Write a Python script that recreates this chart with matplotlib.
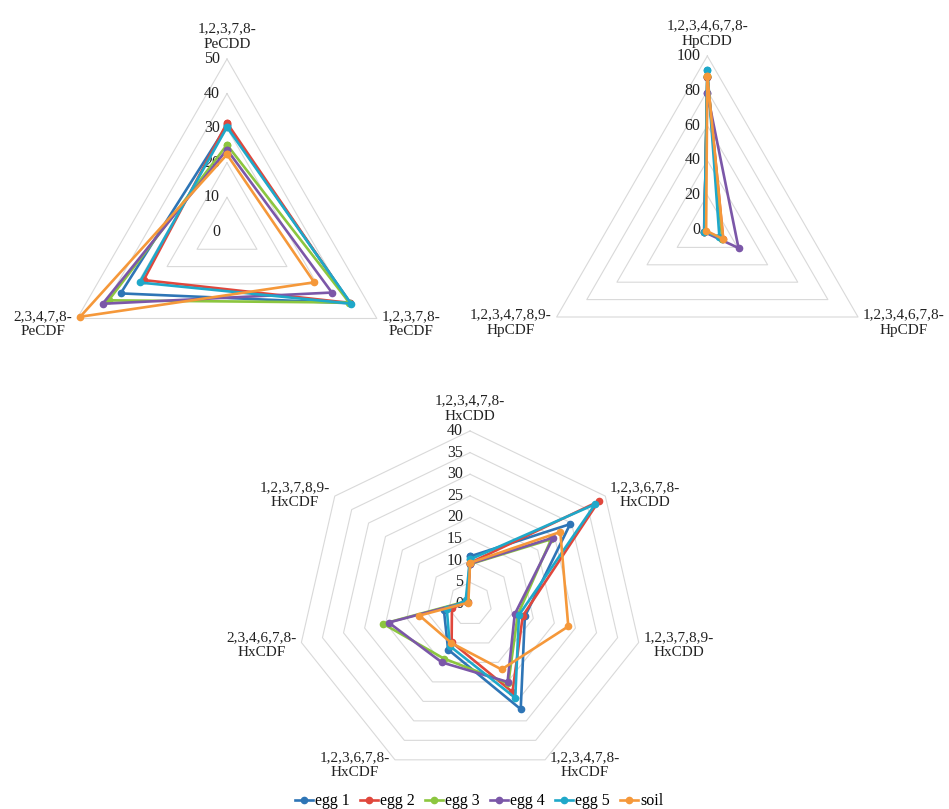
import matplotlib.pyplot as plt
import numpy as np

plt.rcParams['font.family'] = ['Liberation Serif', 'DejaVu Serif']
plt.rcParams['font.size'] = 11.5

series_names = ['egg 1', 'egg 2', 'egg 3', 'egg 4', 'egg 5', 'soil']
colors = ['#2E75B6', '#E0473C', '#8CC63F', '#7B57A8', '#1FA8C9', '#F5983A']

# chart 1: PeCDD / PeCDF
pe_labels = ['1,2,3,7,8-\nPeCDD', '1,2,3,7,8-\nPeCDF', '2,3,4,7,8-\nPeCDF']
pe_values = [
    [30.8, 41.2, 35.5],
    [31.5, 41.0, 27.8],
    [25.2, 40.8, 39.5],
    [23.8, 35.0, 41.5],
    [30.3, 41.4, 29.2],
    [22.4, 29.1, 49.0],
]
pe_ticks = [0, 10, 20, 30, 40, 50]

# chart 2: HpCDD / HpCDF
hp_labels = ['1,2,3,4,6,7,8-\nHpCDD', '1,2,3,4,6,7,8-\nHpCDF', '1,2,3,4,7,8,9-\nHpCDF']
hp_values = [
    [88.0, 10.0, 2.0],
    [88.0, 10.5, 2.0],
    [88.5, 10.0, 2.0],
    [78.5, 20.7, 2.2],
    [92.0, 8.0, 2.0],
    [88.5, 10.6, 0.8],
]
hp_ticks = [0, 20, 40, 60, 80, 100]

# chart 3: HxCDD / HxCDF
hx_labels = ['1,2,3,4,7,8-\nHxCDD', '1,2,3,6,7,8-\nHxCDD', '1,2,3,7,8,9-\nHxCDD',
             '1,2,3,4,7,8-\nHxCDF', '1,2,3,6,7,8-\nHxCDF', '2,3,4,6,7,8-\nHxCDF',
             '1,2,3,7,8,9-\nHxCDF']
hx_values = [
    [11.0, 29.6, 13.0, 27.0, 11.7, 6.2, 0.9],
    [9.5, 38.0, 12.5, 22.6, 9.8, 4.3, 0.7],
    [9.2, 24.0, 11.3, 20.4, 14.0, 20.6, 1.0],
    [9.3, 24.6, 10.6, 20.0, 15.0, 19.3, 0.8],
    [10.3, 37.0, 11.6, 24.1, 10.8, 5.5, 1.3],
    [9.5, 26.7, 23.3, 16.8, 10.0, 12.0, 0.5],
]
hx_ticks = [0, 5, 10, 15, 20, 25, 30, 35, 40]


def radar(rect, labels, values, ticks):
    ax = fig.add_axes(rect, projection='polar')
    ax.set_theta_zero_location('N')
    ax.set_theta_direction(-1)
    ax.set_ylim(0, ticks[-1])
    ax.axis('off')
    n = len(labels)
    theta = np.linspace(0, 2 * np.pi, n, endpoint=False)
    tc = np.append(theta, theta[0])
    for t in ticks[1:]:
        ax.plot(tc, [t] * (n + 1), color='#D9D9D9', lw=0.8, zorder=1, clip_on=False)
    for t in ticks:
        ax.annotate(str(t), xy=(0, t), xytext=(-5, 0), textcoords='offset points',
                    ha='right', va='center', color='#222222')
    for vals, name, c in zip(values, series_names, colors):
        ax.plot(tc, vals + [vals[0]], color=c, lw=1.9, marker='o', ms=4.5,
                label=name, zorder=3, clip_on=False)
    for th, lab in zip(theta, labels):
        s, co = np.sin(th), np.cos(th)
        if abs(s) < 0.1:
            ha, va, dx, dy = 'center', 'bottom', 0, 6
        else:
            ha = 'left' if s > 0 else 'right'
            va = 'center'
            dx = 3.5 if s > 0 else -3.5
            dy = -4 if co < -0.3 else (-2 if co < 0 else 1)
        ax.annotate(lab, xy=(th, ticks[-1]), xytext=(dx, dy), textcoords='offset points',
                    ha=ha, va=va, multialignment='center', linespacing=1.2,
                    fontsize=11, color='#222222')
    return ax


fig = plt.figure(figsize=(9.49, 8.09), dpi=100)

ax1 = radar([0.0569, 0.4994, 0.3646, 0.4277], pe_labels, pe_values, pe_ticks)
ax2 = radar([0.5620, 0.5006, 0.3667, 0.4302], hp_labels, hp_values, hp_ticks)
ax3 = radar([0.3130, 0.0396, 0.3646, 0.4277], hx_labels, hx_values, hx_ticks)

handles, names = ax3.get_legend_handles_labels()
fig.legend(handles, names, loc='lower center', bbox_to_anchor=(0.505, -0.018), ncol=6,
           frameon=False, handlelength=1.1, columnspacing=0.65, handletextpad=0.15)

fig.savefig('out.png', dpi=100)
